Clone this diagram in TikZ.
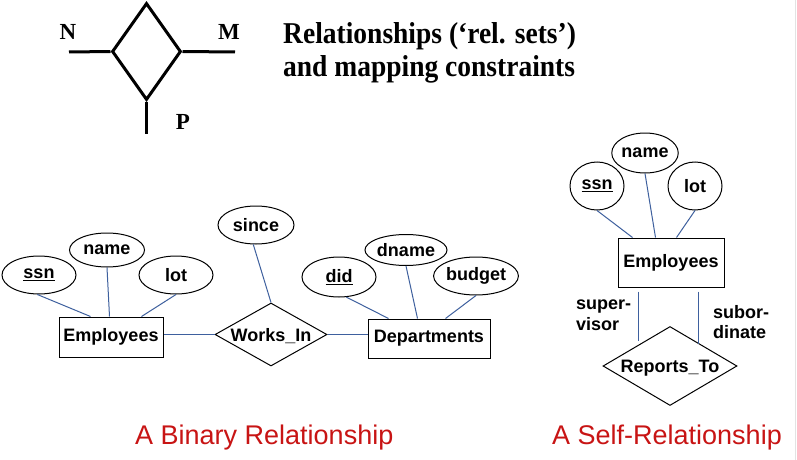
\documentclass[tikz,border=0pt]{standalone}
\usepackage{fontspec}
\setmainfont{Liberation Sans}
\newfontfamily\timesbf{Liberation Serif}[BoldFont={Liberation Serif Bold}]
\usetikzlibrary{shapes.geometric,calc}
\definecolor{conn}{RGB}{62,96,158}
\definecolor{capred}{RGB}{200,20,20}
\begin{document}
\begin{tikzpicture}[x=1pt,y=-1pt,
  lbl/.style={font=\fontsize{18}{20.5}\selectfont\bfseries},
  entity/.style={draw,line width=1pt,rectangle,inner sep=0pt,lbl},
  attr/.style={draw,line width=1pt,ellipse,inner sep=0pt,lbl},
  rel/.style={draw,line width=1pt,diamond,inner sep=0pt},
  link/.style={draw=conn,line width=1pt},
  heavy/.style={line width=3pt},
  tlabel/.style={font=\fontsize{23}{26}\selectfont\timesbf\bfseries},
  ttitle/.style={font=\fontsize{27.5}{33}\selectfont\timesbf\bfseries,anchor=base west,inner sep=0pt},
  caption/.style={font=\fontsize{27}{30}\selectfont,text=capred,anchor=base west,inner sep=0pt}]
\useasboundingbox (0,0) rectangle (797,460);
\fill[white] (0,0) rectangle (797,460);
\draw[gray!22,line width=1pt] (795.5,0) -- (795.5,460);

% --- top symbol ---
\node[draw,heavy,diamond,minimum width=69pt,minimum height=97pt,inner sep=0pt] (sym) at (146.5,51.5) {};
\coordinate (nL) at (69,52);
\coordinate (nR) at (235,52);
\coordinate (nB) at (146.5,134);
\draw[heavy] (sym.west) -- (nL);
\draw[heavy] (sym.east) -- (nR);
\draw[heavy] (sym.south) -- (nB);
\node[tlabel] (N) at (68,32) {N};
\node[tlabel] (M) at (229,32) {M};
\node[tlabel] (P) at (183,122) {P};
\node[ttitle] (t1) at (283,44) {\scalebox{1}[1.1]{Relationships (‘rel. sets’)}};
\node[ttitle] (t2) at (283,77) {\scalebox{1}[1.1]{and mapping constraints}};

% --- binary relationship ---
\node[entity,minimum width=104pt,minimum height=40pt] (E1) at (111,337) {Employees};
\node[attr,minimum width=74pt,minimum height=38pt] (ssn1) at (39,275) {\underline{ssn}};
\node[attr,minimum width=75pt,minimum height=34pt] (name1) at (107,250) {name};
\node[attr,minimum width=74pt,minimum height=38pt] (lot1) at (176,275) {lot};
\node[attr,minimum width=76pt,minimum height=38pt] (since) at (256,225) {since};
\node[rel,minimum width=112pt,minimum height=63pt,label={[lbl,yshift=-2pt]center:Works\_In}] (WI) at (271,334.5) {};
\node[entity,minimum width=122pt,minimum height=39pt] (D1) at (429,338.5) {Departments};
\node[attr,minimum width=74pt,minimum height=40pt] (did) at (339,277) {\underline{did}};
\node[attr,minimum width=76pt,minimum height=31pt] (dname) at (406,250) {dname};
\node[attr,minimum width=76pt,minimum height=38pt] (budget) at (476,276) {budget};

\draw[link] (ssn1.265) -- ($(E1.north west)+(32,0)$);
\draw[link] (name1.south) -- ($(E1.north west)+(51,0)$);
\draw[link] (lot1.south) -- ($(E1.north west)+(83,0)$);
\draw[link] (since.262) -- (WI.north);
\draw[link] (WI.west) -- (WI.west -| E1.east);
\draw[link] (WI.east) -- (WI.east -| D1.west);
\draw[link] (did.290) -- ($(D1.north west)+(21,0)$);
\draw[link] (dname.south) -- ($(D1.north west)+(50,0)$);
\draw[link] (budget.south) -- ($(D1.north west)+(78,0)$);

% --- self relationship ---
\node[entity,minimum width=106pt,minimum height=49pt] (E2) at (671,262.5) {Employees};
\node[attr,minimum width=54pt,minimum height=48pt] (ssn2) at (597,186) {\underline{ssn}};
\node[attr,minimum width=54pt,minimum height=40pt] (name2) at (645,153) {name};
\node[attr,minimum width=54pt,minimum height=48pt] (lot2) at (695,186) {lot};
\node[rel,minimum width=134pt,minimum height=79pt,label={[lbl,yshift=-2.5pt]center:Reports\_To}] (RT) at (670,366) {};
\draw[link] (ssn2.south) -- ($(E2.north west)+(15,0)$);
\draw[link] (name2.south) -- ($(E2.north west)+(38,0)$);
\draw[link] (lot2.south) -- ($(E2.north west)+(59,0)$);
\coordinate (sv1) at ($(E2.south west)+(21,4)$);
\coordinate (sv2) at ($(E2.south west)+(21,53)$);
\coordinate (sb1) at ($(E2.south west)+(81,4)$);
\coordinate (sb2) at ($(E2.south west)+(81,56)$);
\draw[link] (sv1) -- (sv2);
\draw[link] (sb1) -- (sb2);
\node[lbl,align=left,anchor=west,inner sep=0pt] (sup) at (576,315) {super-\\visor};
\node[lbl,align=left,anchor=west,inner sep=0pt] (sub) at (713,322) {subor-\\dinate};

% --- captions ---
\node[caption] (c1) at (135,444) {A Binary Relationship};
\node[caption] (c2) at (552,444) {A Self-Relationship};
\end{tikzpicture}
\end{document}
